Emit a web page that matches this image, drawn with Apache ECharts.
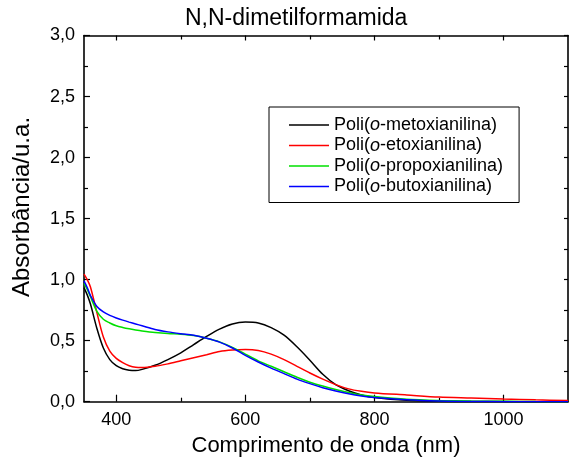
<!DOCTYPE html>
<html>
<head>
<meta charset="utf-8">
<script src="https://cdn.jsdelivr.net/npm/echarts@6/dist/echarts.min.js"></script>
<style>
html,body{margin:0;padding:0;background:#fff;}
#c{width:574px;height:463px;}
</style>
</head>
<body>
<div id="c"></div>
<script>
var wavelengths = [350,355,360,370,380,390,400,410,420,430,440,460,480,500,520,540,560,580,600,620,640,660,680,700,720,740,760,780,800,850,900,950,1000,1050,1100];
var metoxi = [0.935,0.875,0.80,0.60,0.44,0.345,0.295,0.27,0.258,0.255,0.265,0.298,0.345,0.40,0.468,0.535,0.595,0.637,0.652,0.645,0.607,0.545,0.45,0.34,0.225,0.14,0.09,0.055,0.035,0.012,0.004,0.002,0.001,0,0];
var etoxi = [1.045,1.0,0.94,0.73,0.53,0.415,0.355,0.32,0.295,0.282,0.28,0.29,0.31,0.335,0.36,0.385,0.412,0.424,0.428,0.42,0.39,0.345,0.29,0.235,0.185,0.14,0.105,0.085,0.072,0.055,0.038,0.03,0.022,0.015,0.01];
var propoxi = [0.97,0.92,0.86,0.74,0.675,0.645,0.622,0.608,0.597,0.588,0.58,0.567,0.558,0.553,0.542,0.52,0.49,0.445,0.39,0.335,0.29,0.245,0.2,0.16,0.128,0.1,0.075,0.055,0.042,0.02,0.01,0.005,0.003,0.001,0];
var butoxi = [0.99,0.935,0.87,0.78,0.735,0.707,0.686,0.668,0.652,0.637,0.622,0.592,0.572,0.557,0.544,0.52,0.488,0.44,0.38,0.325,0.275,0.23,0.185,0.148,0.115,0.088,0.065,0.047,0.034,0.015,0.005,0.002,0,0,0];
var seriesNames = ['Poli(o-metoxianilina)','Poli(o-etoxianilina)','Poli(o-propoxianilina)','Poli(o-butoxianilina)'];
var seriesColors = ['#000000','#ff0000','#00e000','#0000ff'];
var xMajorTicks = [400,600,800,1000];
var xMinorTicks = [500,700,900];

var FONT = '"Liberation Sans", Arial, sans-serif';
function pairs(ys){ return wavelengths.map(function(w,i){ return [w, ys[i]]; }); }
var allY = [metoxi, etoxi, propoxi, butoxi];

function xAxisDef(pos, ticks, len, showLine, showLabel){
  return {
    type:'value', position: pos, min:350, max:1100, gridIndex:0,
    splitLine:{show:false},
    axisLine:{show:showLine, onZero:false, lineStyle:{color:'#000', width:1.6}},
    axisTick:{show:true, inside:true, length:len, customValues:ticks, lineStyle:{color:'#000', width:1.2}},
    axisLabel:{show:showLabel, customValues:ticks, margin:9, color:'#000', fontSize:18, fontFamily:FONT,
      formatter:function(v){ return String(v); }},
    name: showLabel ? 'Comprimento de onda (nm)' : '',
    nameLocation:'middle', nameGap:33,
    nameTextStyle:{fontSize:22, color:'#000', fontFamily:FONT}
  };
}

var chart = echarts.init(document.getElementById('c'));
chart.setOption({
  animation:false,
  backgroundColor:'#fff',
  title:{
    text:'N,N-dimetilformamida', left:180, top:2,
    textStyle:{fontSize:23, fontWeight:'normal', color:'#000', fontFamily:FONT}
  },
  grid:{left:84, right:6, top:35.5, bottom:61.3},
  legend:{
    orient:'vertical', left:269, top:107,
    backgroundColor:'#fff', borderColor:'#000', borderWidth:1, borderRadius:0,
    padding:[9,16,7,20],
    itemWidth:40, itemHeight:14, itemGap:2.5,
    icon:'path://M0,0L40,0L40,1.5L0,1.5Z',
    data: seriesNames,
    formatter:function(name){
      var rest = name.replace('Poli(o', '');
      return '{n|Poli(}{i|o}{n|' + rest + '}';
    },
    textStyle:{
      fontSize:18, color:'#000', fontFamily:FONT, lineHeight:18,
      rich:{
        n:{fontSize:18, color:'#000', fontFamily:FONT, lineHeight:18},
        i:{fontSize:18, color:'#000', fontFamily:FONT, fontStyle:'italic', lineHeight:18}
      }
    }
  },
  xAxis:[
    xAxisDef('bottom', xMajorTicks, 7, true, true),
    xAxisDef('bottom', xMinorTicks, 4, false, false),
    xAxisDef('top', xMajorTicks, 5, true, false),
    xAxisDef('top', xMinorTicks, 4, false, false)
  ],
  yAxis:[
    {
      type:'value', position:'left', min:0, max:3, interval:0.5,
      splitLine:{show:false},
      axisLine:{show:true, onZero:false, lineStyle:{color:'#000', width:1.6}},
      axisTick:{show:true, inside:true, length:6, lineStyle:{color:'#000', width:1.2}},
      minorTick:{show:true, splitNumber:2, length:4, lineStyle:{color:'#000', width:1.2}},
      axisLabel:{margin:9, color:'#000', fontSize:18, fontFamily:FONT,
        formatter:function(v){ return v.toFixed(1).replace('.', ','); }}
    },
    {
      type:'value', position:'right', min:0, max:3, interval:0.5,
      splitLine:{show:false},
      axisLine:{show:true, onZero:false, lineStyle:{color:'#000', width:1.6}},
      axisTick:{show:true, inside:true, length:4, lineStyle:{color:'#000', width:1.2}},
      minorTick:{show:true, splitNumber:2, length:4, lineStyle:{color:'#000', width:1.2}},
      axisLabel:{show:false}
    }
  ],
  graphic:[{
    type:'text', x:22, y:207, rotation:Math.PI/2,
    style:{text:'Absorbância/u.a.', x:0, y:0, align:'center', verticalAlign:'middle',
      fontSize:24, fill:'#000', fontFamily:FONT}
  }],
  series: seriesNames.map(function(n, k){
    return {
      name:n, type:'line', xAxisIndex:0, yAxisIndex:0,
      data: pairs(allY[k]), smooth:0.3, symbol:'none',
      lineStyle:{color:seriesColors[k], width:1.5},
      itemStyle:{color:seriesColors[k]}, z: 2 + (k===3 ? 1 : 0)
    };
  })
});
</script>
</body>
</html>
